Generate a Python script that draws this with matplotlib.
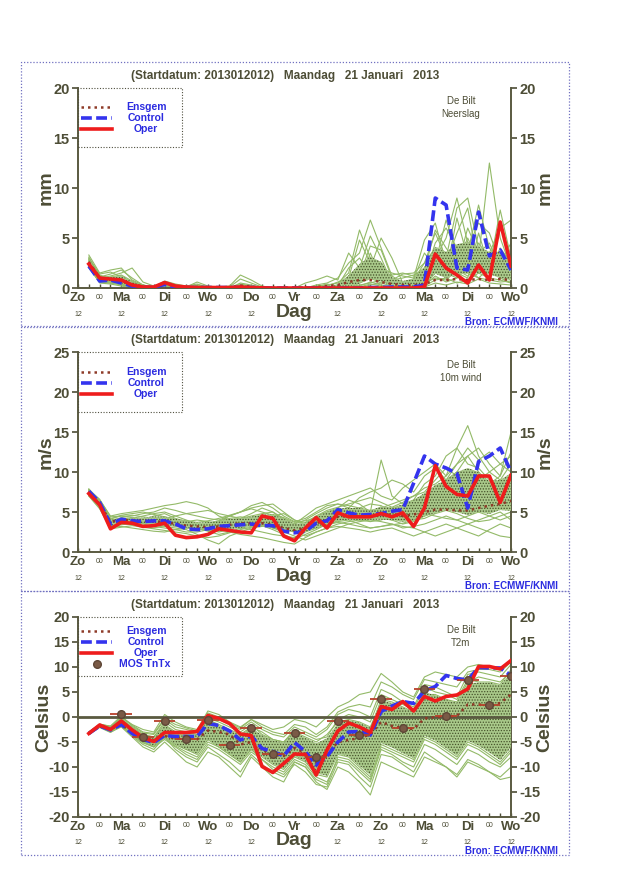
import numpy as np
import matplotlib
matplotlib.use('Agg')
import matplotlib.pyplot as plt
from matplotlib.patches import Rectangle

plt.rcParams['font.family'] = ['Liberation Sans', 'DejaVu Sans']
plt.rcParams['hatch.linewidth'] = 0.6

TXT = '#4d4d36'
GREEN = '#93ba68'
BLUE = '#3434ee'
RED = '#ee1c1c'
BROWN = '#8e3b28'

hours = list(range(6, 241, 6))
day_names = ['Zo', 'Ma', 'Di', 'Wo', 'Do', 'Vr', 'Za', 'Zo', 'Ma', 'Di', 'Wo']
title = '(Startdatum: 2013012012)   Maandag   21 Januari   2013'

# ---- neerslag (mm / 6h)
rain_oper = [2.4, 1.0, 0.9, 0.8, 0.3, 0.1, 0.1, 0.55, 0.2, 0.1,
             0.05, 0.05, 0.05, 0.05, 0.1, 0.05, 0.02, 0, 0, 0,
             0, 0, 0, 0, 0, 0, 0, 0, 0, 0,
             0, 0.1, 3.4, 2.0, 1.3, 0.5, 2.3, 0.8, 6.6, 2.2]
rain_ctrl = [2.2, 0.7, 0.8, 0.5, 0.2, 0.05, 0.1, 0.35, 0.1, 0.05,
             0.05, 0.05, 0.05, 0.05, 0.05, 0.05, 0.02, 0, 0, 0,
             0, 0, 0, 0, 0, 0, 0.05, 0.05, 0.1, 0.1,
             0.1, 0.3, 9.0, 8.3, 2.0, 1.8, 7.6, 3.2, 3.8, 1.8]
rain_mean = [2.6, 1.0, 0.9, 0.8, 0.4, 0.15, 0.05, 0.45, 0.15, 0.05,
             0.1, 0.05, 0.02, 0.05, 0.25, 0.15, 0.02, 0.02, 0.02, 0.02,
             0.05, 0.1, 0.2, 0.3, 0.6, 0.8, 0.8, 0.6, 0.4, 0.3,
             0.3, 0.4, 0.8, 0.8, 0.9, 0.8, 0.9, 0.8, 0.9, 0.8]
rain_members = [
    [3.3, 1.5, 1.8, 2.0, 0.8, 0.3, 0.1, 0.5, 0.3, 0.1, 0.6, 0.2, 0.1, 0.2, 1.3, 0.8, 0.2, 0, 0, 0,
     0, 0.3, 0.5, 1.0, 2.5, 3.5, 6.8, 4.0, 1.2, 0.5, 0.8, 2.5, 5.5, 3.0, 8.0, 9.0, 4.0, 2.5, 1.0, 3.0],
    [2.8, 1.0, 1.2, 1.5, 2.0, 0.6, 0.2, 0.6, 0.2, 0.1, 0.2, 0.1, 0, 0.1, 0.9, 0.5, 0.1, 0, 0, 0,
     0, 0.2, 0.3, 0.5, 1.5, 5.8, 3.0, 2.0, 1.5, 1.2, 1.0, 4.8, 6.5, 2.5, 2.0, 3.5, 8.3, 4.0, 2.5, 1.5],
    [2.5, 0.8, 0.6, 0.4, 0.2, 0.1, 0, 0.4, 0.1, 0, 0.1, 0, 0, 0, 0.4, 0.2, 0, 0, 0, 0,
     0.5, 0.8, 1.2, 0.8, 3.5, 2.0, 5.2, 3.0, 0.5, 0.2, 0.3, 1.0, 4.5, 6.0, 4.0, 2.0, 3.0, 12.5, 5.0, 2.0],
    [3.0, 1.3, 0.9, 1.0, 0.5, 0.2, 0.1, 0.7, 0.4, 0.2, 0.3, 0.1, 0, 0, 0.1, 0.1, 0, 0, 0, 0,
     0, 0, 0.2, 0.6, 1.0, 4.8, 2.5, 1.5, 1.3, 1.5, 1.2, 2.0, 3.0, 5.0, 9.0, 4.5, 2.0, 3.5, 6.0, 6.8],
    [2.2, 0.6, 0.5, 0.3, 0.1, 0, 0, 0.3, 0.1, 0, 0, 0, 0, 0, 0, 0, 0, 0, 0, 0,
     0, 0, 0, 0.3, 0.8, 1.5, 2.8, 1.5, 0.4, 0.2, 0.2, 0.5, 2.0, 1.5, 1.0, 2.5, 4.5, 3.0, 1.5, 0.8],
    [2.6, 1.1, 1.4, 1.8, 1.0, 0.3, 0.1, 0.5, 0.2, 0.1, 0.1, 0.1, 0, 0, 0.2, 0, 0, 0, 0, 0,
     0, 0, 0.1, 0.2, 0.5, 1.0, 2.0, 5.0, 3.0, 0.5, 0.3, 1.5, 3.5, 2.5, 5.5, 8.0, 2.0, 1.0, 3.0, 1.0],
    [2.9, 0.9, 0.7, 0.5, 0.2, 0.1, 0, 0.3, 0, 0, 0, 0, 0, 0, 0, 0, 0, 0, 0, 0,
     0, 0, 0, 0, 0.2, 0.5, 3.5, 1.0, 0.2, 0.1, 0.1, 0.3, 1.5, 2.5, 1.5, 1.0, 5.5, 2.0, 7.8, 3.0],
    [2.4, 0.7, 0.8, 0.6, 0.3, 0.1, 0, 0.4, 0.2, 0, 0, 0, 0, 0, 0.5, 0.3, 0, 0, 0, 0,
     0, 0, 0, 0, 0, 0.5, 1.0, 2.5, 0.8, 1.4, 1.5, 2.5, 4.0, 3.5, 2.0, 6.0, 3.5, 4.5, 2.0, 1.2],
    [2.1, 0.5, 0.4, 0.2, 0, 0, 0, 0.2, 0, 0, 0, 0, 0, 0, 0, 0, 0, 0, 0, 0,
     0, 0, 0, 0, 0, 0, 0.3, 0.5, 0.2, 0.1, 0, 0.2, 0.8, 1.0, 0.5, 0.8, 1.5, 1.0, 0.8, 0.5],
    [3.1, 1.2, 1.0, 1.2, 0.6, 0.2, 0.1, 0.6, 0.3, 0.2, 0.4, 0.1, 0, 0, 0, 0, 0, 0, 0, 0,
     0, 0.1, 0.4, 0.2, 2.0, 3.0, 1.5, 0.8, 0.3, 0.6, 0.9, 3.5, 2.0, 1.0, 3.0, 4.0, 6.5, 5.5, 2.5, 4.5],
    [2.7, 1.0, 0.9, 0.7, 0.3, 0.1, 0, 0.5, 0.1, 0, 0, 0, 0, 0, 0.3, 0.2, 0, 0, 0, 0,
     0, 0, 0, 0.1, 0.3, 0.8, 1.5, 0.7, 0.3, 0.2, 0.1, 0.5, 1.0, 0.8, 1.8, 1.2, 2.0, 1.5, 3.5, 1.8],
    [2.3, 0.8, 1.1, 1.3, 0.7, 0.2, 0, 0.4, 0.1, 0, 0, 0, 0, 0, 0, 0, 0, 0, 0, 0,
     0, 0, 0, 0, 0.4, 1.2, 4.2, 3.8, 1.0, 0.3, 0.5, 1.0, 2.5, 6.8, 3.5, 1.5, 1.0, 2.0, 1.0, 0.5],
    [2.0, 0.6, 0.5, 0.4, 0.1, 0, 0, 0.2, 0, 0, 0, 0, 0, 0, 0, 0, 0, 0, 0, 0,
     0, 0, 0, 0, 0, 0.2, 0.6, 0.3, 0.1, 0, 0, 0.1, 0.5, 0.3, 0.6, 0.4, 0.9, 0.5, 0.4, 0.3],
    [2.9, 1.4, 1.6, 1.1, 0.4, 0.2, 0, 0.5, 0.2, 0.1, 0.2, 0, 0, 0, 0, 0, 0, 0, 0, 0,
     0, 0, 0.1, 0.3, 1.2, 2.2, 1.0, 0.5, 0.8, 1.0, 1.3, 1.8, 5.8, 4.0, 2.5, 5.0, 2.5, 1.5, 4.0, 2.5],
    [2.5, 0.9, 0.7, 0.9, 0.4, 0.1, 0, 0.3, 0.1, 0, 0, 0, 0, 0, 0, 0, 0, 0, 0, 0,
     0, 0, 0, 0, 0.1, 0.3, 0.5, 0.8, 0.3, 0.2, 0.3, 0.8, 2.8, 1.5, 7.0, 3.0, 1.5, 2.5, 1.2, 1.0],
    [2.6, 1.0, 0.8, 0.6, 0.2, 0.1, 0, 0.4, 0.1, 0, 0, 0, 0, 0, 0, 0, 0, 0, 0, 0,
     0, 0, 0, 0, 0, 0.1, 0.4, 0.2, 0.1, 0, 0.1, 0.3, 1.2, 0.6, 1.0, 2.0, 1.0, 0.8, 0.6, 0.7],
]

# ---- 10m wind (m/s)
wind_oper = [7.3, 5.9, 2.9, 3.7, 3.6, 3.2, 3.3, 3.6, 2.1, 1.8,
             1.9, 2.2, 2.9, 2.7, 2.5, 2.4, 4.5, 4.2, 2.0, 1.4,
             3.0, 4.3, 3.0, 4.9, 4.4, 4.4, 4.4, 4.8, 4.4, 4.9,
             3.2, 5.5, 10.8, 8.2, 7.2, 7.0, 9.5, 9.5, 6.2, 9.6]
wind_ctrl = [7.6, 6.2, 3.5, 4.1, 3.9, 3.8, 3.9, 3.9, 3.5, 2.9,
             2.8, 2.9, 3.2, 3.3, 3.4, 3.5, 3.3, 3.3, 2.6, 2.4,
             2.6, 3.6, 3.9, 5.3, 4.9, 4.6, 4.7, 4.8, 5.1, 5.3,
             8.6, 12.0, 11.0, 10.5, 9.8, 5.5, 11.3, 12.0, 13.0, 10.0]
wind_mean = [7.5, 6.0, 3.8, 4.0, 4.0, 3.9, 3.8, 3.8, 3.5, 3.3,
             3.2, 3.1, 3.2, 3.4, 3.6, 3.6, 3.6, 3.4, 3.0, 2.7,
             3.0, 3.6, 4.0, 4.4, 4.5, 4.5, 4.5, 4.6, 4.7, 4.5,
             4.7, 5.0, 5.3, 5.3, 5.2, 5.2, 5.5, 5.8, 6.0, 6.4]
wind_members = [
    [7.8, 6.5, 4.5, 4.8, 5.0, 5.2, 5.5, 5.8, 6.0, 6.3, 6.0, 5.5, 4.5, 4.0, 4.2, 4.8, 5.5, 5.0, 4.0, 3.5,
     4.5, 5.5, 6.0, 6.5, 7.0, 7.5, 8.0, 7.0, 6.5, 8.0, 9.0, 10.0, 11.0, 9.5, 13.0, 15.8, 12.0, 10.0, 9.0, 11.0],
    [7.2, 5.8, 3.5, 3.8, 4.2, 4.5, 4.8, 5.0, 4.5, 4.0, 3.5, 3.2, 3.8, 4.5, 5.0, 5.5, 5.8, 6.0, 5.0, 4.0,
     3.5, 4.0, 5.0, 5.5, 6.5, 6.0, 5.0, 11.5, 7.0, 6.0, 6.5, 7.0, 8.0, 9.0, 10.0, 12.0, 13.0, 11.0, 9.5, 12.5],
    [7.5, 6.0, 3.2, 3.5, 3.8, 3.5, 3.2, 3.0, 2.8, 2.5, 2.5, 2.8, 3.0, 3.2, 3.0, 2.8, 2.5, 2.2, 2.0, 1.8,
     2.5, 3.0, 3.5, 4.0, 4.2, 4.0, 3.8, 4.0, 4.5, 4.2, 5.0, 6.0, 7.0, 8.0, 7.5, 9.0, 10.0, 8.5, 9.5, 15.0],
    [7.0, 5.5, 3.0, 3.5, 3.5, 3.8, 4.0, 4.0, 3.5, 3.2, 3.0, 2.8, 2.5, 2.8, 3.5, 4.0, 4.5, 4.0, 3.5, 3.0,
     3.5, 4.5, 5.0, 5.2, 4.8, 5.5, 6.0, 5.8, 5.0, 5.5, 6.5, 8.5, 9.5, 12.0, 13.0, 11.0, 10.5, 9.0, 8.0, 9.5],
    [7.6, 6.2, 4.0, 4.2, 4.0, 3.8, 3.5, 3.2, 3.0, 2.8, 2.2, 1.5, 1.0, 2.0, 2.5, 3.0, 3.2, 3.5, 3.0, 2.5,
     2.0, 2.5, 3.0, 3.5, 3.8, 4.0, 4.2, 4.5, 4.0, 3.5, 3.8, 4.5, 5.0, 6.0, 5.5, 5.0, 6.5, 7.0, 6.0, 7.5],
    [7.9, 6.4, 4.2, 4.5, 4.5, 4.8, 5.0, 5.5, 5.2, 4.8, 4.5, 4.2, 4.0, 4.5, 5.0, 5.8, 6.2, 5.5, 4.5, 3.8,
     4.2, 5.0, 5.8, 6.0, 5.5, 6.8, 7.5, 8.0, 9.0, 8.5, 7.5, 9.5, 10.5, 9.0, 11.0, 13.0, 11.5, 12.5, 11.0, 10.0],
    [7.3, 5.7, 3.4, 3.6, 3.4, 3.2, 3.0, 3.3, 3.6, 3.8, 4.0, 3.8, 3.5, 3.2, 3.0, 3.2, 3.5, 3.8, 3.2, 2.6,
     3.0, 3.5, 4.0, 4.5, 4.8, 5.0, 4.5, 4.2, 4.0, 4.5, 5.5, 6.0, 5.5, 7.0, 8.0, 6.5, 5.5, 6.0, 7.0, 6.5],
    [7.4, 6.0, 3.8, 4.0, 3.8, 3.6, 3.8, 4.0, 3.8, 3.5, 3.2, 3.0, 3.2, 3.5, 3.8, 4.0, 3.6, 3.0, 2.5, 2.0,
     1.5, 2.0, 2.5, 3.0, 3.5, 3.8, 4.0, 3.8, 3.5, 3.0, 3.2, 3.5, 4.0, 4.5, 4.0, 3.5, 4.0, 4.5, 5.0, 4.0],
    [7.7, 6.3, 3.6, 3.9, 4.2, 4.0, 4.5, 4.8, 4.2, 3.8, 3.5, 3.6, 3.8, 4.0, 4.2, 4.5, 4.8, 5.0, 4.2, 3.5,
     4.0, 4.8, 5.5, 6.0, 5.8, 5.5, 5.2, 5.5, 6.0, 6.5, 7.0, 7.5, 9.0, 10.5, 9.5, 8.5, 9.0, 10.0, 11.0, 12.0],
    [7.1, 5.6, 3.1, 3.2, 3.0, 2.8, 2.6, 2.5, 2.8, 3.0, 3.2, 3.0, 2.8, 2.5, 2.2, 2.0, 1.8, 1.5, 1.2, 1.0,
     1.8, 2.5, 3.0, 3.2, 3.0, 2.8, 2.5, 2.8, 3.0, 2.5, 2.0, 2.5, 3.0, 3.5, 3.0, 2.5, 2.0, 2.8, 3.5, 3.0],
    [7.5, 6.1, 3.9, 4.3, 4.6, 4.4, 4.2, 4.0, 3.6, 3.3, 3.0, 2.6, 2.2, 2.5, 3.0, 3.5, 4.0, 4.5, 4.8, 4.0,
     3.5, 4.0, 4.5, 5.0, 5.5, 5.2, 4.8, 5.0, 5.5, 5.8, 6.0, 7.0, 8.0, 7.0, 6.5, 7.5, 8.5, 7.5, 6.5, 8.0],
    [7.8, 6.6, 4.4, 4.5, 4.3, 4.1, 3.9, 4.2, 4.5, 4.8, 5.0, 5.2, 4.8, 4.5, 4.2, 3.8, 3.5, 3.0, 2.8, 2.5,
     2.8, 3.2, 3.8, 4.2, 4.5, 4.8, 5.0, 5.5, 5.2, 5.0, 5.5, 6.5, 7.5, 6.5, 5.5, 6.0, 7.0, 8.0, 9.0, 8.5],
    [7.2, 5.9, 3.3, 3.4, 3.6, 3.7, 3.5, 3.4, 3.2, 3.0, 2.9, 2.7, 2.6, 2.9, 3.3, 3.6, 3.3, 2.8, 2.2, 1.6,
     2.2, 2.8, 3.5, 3.8, 4.0, 3.5, 3.0, 3.2, 3.5, 3.2, 3.0, 2.5, 2.0, 2.5, 3.0, 3.5, 3.0, 2.5, 2.0, 1.8],
    [7.6, 6.2, 3.7, 4.0, 3.9, 3.8, 3.9, 3.6, 3.4, 3.2, 3.4, 3.6, 3.9, 4.2, 4.4, 4.2, 3.9, 3.6, 3.4, 3.1,
     3.4, 4.0, 4.6, 4.9, 5.2, 4.9, 4.6, 4.9, 5.3, 5.7, 6.2, 6.8, 7.8, 8.8, 10.0, 8.5, 7.5, 7.0, 8.5, 9.0],
    [7.4, 5.9, 3.5, 3.7, 3.9, 4.1, 4.3, 4.4, 4.0, 3.7, 3.5, 3.3, 3.1, 3.3, 3.6, 3.9, 4.3, 4.7, 4.3, 3.7,
     3.9, 4.3, 4.8, 5.3, 5.0, 4.6, 4.4, 4.6, 4.8, 5.2, 5.0, 4.8, 4.5, 4.2, 4.0, 4.5, 5.0, 5.5, 6.0, 5.5],
    [7.0, 5.4, 2.9, 3.1, 3.3, 3.1, 2.9, 2.7, 2.5, 2.3, 2.0, 1.8, 2.0, 2.4, 2.8, 3.1, 3.4, 3.7, 3.3, 2.9,
     2.6, 3.0, 3.4, 3.7, 3.5, 3.2, 3.0, 3.2, 3.4, 3.6, 4.0, 4.5, 5.0, 5.5, 6.0, 5.5, 5.0, 4.5, 4.0, 4.5],
    [7.7, 6.4, 4.1, 4.6, 4.8, 5.0, 4.7, 4.4, 4.1, 3.9, 3.7, 3.9, 4.2, 4.6, 5.0, 5.4, 5.0, 4.6, 3.9, 3.3,
     3.7, 4.5, 5.2, 5.6, 6.0, 6.4, 6.8, 6.2, 5.6, 6.2, 7.0, 8.0, 8.5, 9.5, 11.0, 12.0, 10.0, 8.5, 7.5, 9.0],
    [7.3, 5.8, 3.6, 3.8, 3.7, 3.6, 3.7, 3.9, 3.7, 3.5, 3.3, 3.4, 3.6, 3.8, 3.9, 3.7, 3.4, 3.2, 2.9, 2.6,
     2.9, 3.4, 3.9, 4.3, 4.5, 4.3, 4.1, 4.3, 4.5, 4.2, 4.0, 4.2, 4.8, 5.2, 4.8, 4.2, 3.8, 4.0, 4.5, 5.0],
]

# ---- T2m (Celsius)
temp_oper = [-3.3, -1.6, -2.5, -0.8, -2.6, -4.1, -4.9, -3.1, -3.1, -3.1,
             -2.9, 0.3, -0.3, -1.3, -3.4, -3.7, -9.9, -11.1, -9.3, -7.4,
             -7.5, -11.6, -6.6, -2.8, -1.2, -2.0, -3.1, 2.1, 1.5, 3.1,
             1.2, 4.1, 3.2, 4.1, 4.4, 5.6, 10.1, 10.1, 9.6, 11.3]
temp_ctrl = [-3.3, -1.8, -2.6, -1.5, -3.3, -4.5, -5.1, -3.7, -3.9, -3.9,
             -3.9, -1.3, -1.7, -2.8, -4.6, -3.8, -6.3, -6.9, -7.8, -5.1,
             -6.9, -9.6, -7.9, -5.0, -3.0, -2.9, -3.6, 1.1, 2.2, 3.1,
             2.7, 5.2, 6.1, 8.3, 7.7, 7.4, 9.9, 9.8, 9.8, 8.3]
temp_mean = [-3.3, -1.9, -2.4, -1.5, -3.2, -4.3, -4.7, -3.8, -4.3, -4.2,
             -4.5, -2.7, -3.0, -3.5, -5.5, -5.0, -6.5, -7.5, -7.8, -6.2,
             -7.2, -9.0, -7.5, -5.0, -4.6, -4.2, -3.5, -1.0, -1.8, -2.2,
             -2.4, -0.3, 0.0, 0.1, 0.2, 2.5, 2.5, 2.3, 2.8, 4.5]
temp_members = [
    [-3.2, -1.6, -2.2, 0.0, -1.5, -2.5, -3.0, 0.5, -1.0, -2.0, -2.5, 1.2, 0.5, -1.0, -2.0, -0.5, -1.5, -2.5, -2.0, -0.5,
     -1.0, -2.0, 0.0, 2.0, 3.0, 4.5, 5.0, 8.7, 7.0, 5.0, 4.0, 8.0, 9.0, 8.5, 8.0, 10.0, 10.5, 10.0, 9.5, 11.5],
    [-3.4, -1.8, -2.6, -1.0, -3.0, -4.5, -5.0, -3.0, -4.0, -4.5, -5.0, -2.5, -3.0, -4.0, -5.5, -4.0, -5.5, -6.5, -7.0, -5.0,
     -6.0, -7.0, -6.0, -3.0, -2.0, -2.5, -3.0, 2.0, 1.0, 0.0, -0.5, 3.5, 3.0, 2.5, 2.0, 5.5, 6.0, 5.5, 5.0, 8.0],
    [-3.5, -2.0, -3.0, -2.0, -4.0, -6.0, -7.0, -5.0, -7.0, -9.0, -10.0, -7.0, -8.0, -10.0, -12.0, -8.0, -10.0, -12.0, -13.0, -9.0,
     -10.0, -13.0, -14.5, -10.0, -11.0, -13.0, -15.6, -9.0, -10.0, -11.0, -12.0, -8.0, -9.0, -10.0, -12.0, -9.0, -10.0, -11.0, -12.5, -12.0],
    [-3.1, -1.5, -2.0, -0.5, -2.0, -3.5, -4.0, -1.5, -3.0, -3.5, -4.0, -0.5, -1.5, -2.5, -3.5, -2.0, -3.0, -4.5, -5.0, -3.0,
     -4.0, -5.0, -3.5, -1.0, -0.5, -1.0, -2.0, 3.0, 2.0, 1.5, 1.0, 5.0, 4.0, 3.5, 3.0, 7.0, 8.0, 7.5, 7.0, 9.0],
    [-3.3, -1.9, -2.7, -1.2, -3.2, -4.8, -5.5, -4.0, -5.5, -6.5, -7.0, -4.5, -5.5, -7.0, -8.5, -6.0, -7.5, -9.0, -10.0, -7.5,
     -8.5, -10.5, -11.0, -7.0, -7.5, -9.0, -10.5, -4.5, -5.0, -6.5, -7.5, -3.0, -4.0, -5.5, -7.0, -4.0, -5.0, -6.0, -7.5, -5.0],
    [-3.2, -1.7, -2.4, -0.8, -2.5, -4.0, -4.5, -2.5, -3.5, -4.0, -4.5, -1.8, -2.5, -3.5, -4.5, -3.0, -4.5, -6.0, -6.5, -4.5,
     -5.5, -7.0, -7.5, -4.0, -3.0, -3.5, -4.0, 1.0, 0.5, -0.5, -1.5, 2.5, 2.0, 1.0, 0.0, 4.0, 4.5, 4.0, 3.5, 6.5],
    [-3.4, -2.0, -2.8, -1.5, -3.5, -5.0, -6.0, -4.5, -6.0, -7.5, -8.5, -5.5, -6.5, -8.0, -9.5, -7.0, -8.5, -10.0, -11.0, -8.5,
     -9.5, -12.0, -13.0, -8.5, -9.0, -11.0, -13.0, -6.5, -7.5, -9.0, -10.0, -5.5, -6.5, -8.0, -9.5, -6.5, -7.5, -9.0, -10.0, -8.0],
    [-3.0, -1.5, -1.8, 0.2, -1.8, -3.2, -3.5, -0.5, -2.0, -2.5, -3.0, 0.5, -0.5, -1.5, -2.5, -1.0, -2.5, -3.5, -4.0, -2.0,
     -3.0, -4.0, -2.5, 0.5, 1.5, 1.0, 0.0, 5.5, 4.5, 3.0, 2.0, 6.5, 6.0, 5.0, 4.0, 8.5, 9.0, 8.5, 8.0, 10.5],
    [-3.3, -1.8, -2.5, -1.0, -3.0, -4.3, -4.8, -3.5, -4.5, -5.0, -5.5, -3.5, -4.0, -5.0, -6.0, -5.0, -6.5, -7.5, -8.0, -6.0,
     -7.0, -8.5, -9.0, -5.5, -5.5, -6.5, -7.5, -2.5, -3.0, -4.0, -5.0, -1.0, -1.5, -2.5, -4.0, -1.0, -1.5, -2.5, -3.5, -1.5],
    [-3.5, -2.1, -3.1, -1.8, -3.8, -5.5, -6.5, -4.0, -6.5, -8.0, -9.0, -6.0, -7.5, -9.0, -11.0, -7.5, -9.5, -11.0, -12.0, -9.5,
     -11.0, -13.5, -14.0, -9.0, -9.5, -12.0, -14.0, -7.5, -8.0, -9.5, -11.0, -7.0, -8.5, -10.0, -11.5, -8.5, -9.5, -11.0, -12.0, -10.0],
    [-3.2, -1.6, -2.3, -0.6, -2.3, -3.8, -4.2, -2.0, -3.0, -3.2, -3.5, -1.0, -2.0, -3.0, -4.0, -2.5, -4.0, -5.0, -5.5, -3.5,
     -4.5, -6.0, -5.0, -2.0, -1.0, -1.5, -2.5, 3.5, 3.0, 2.0, 1.0, 4.5, 4.5, 3.5, 2.5, 6.0, 6.5, 6.5, 6.0, 8.5],
    [-3.3, -1.9, -2.6, -1.4, -3.3, -4.6, -5.2, -3.8, -5.0, -6.0, -6.5, -4.0, -5.0, -6.0, -7.5, -5.5, -7.0, -8.0, -9.0, -6.5,
     -7.5, -9.5, -10.0, -6.0, -6.5, -8.0, -9.0, -3.5, -4.0, -5.5, -6.5, -2.0, -3.0, -4.5, -5.5, -2.5, -3.0, -4.0, -5.0, -3.0],
    [-3.1, -1.7, -2.1, -0.3, -2.2, -3.6, -4.0, -1.0, -2.5, -3.0, -3.5, -0.2, -1.0, -2.0, -3.0, -1.5, -3.5, -4.5, -5.0, -2.5,
     -3.5, -4.5, -4.0, -0.5, 0.5, 0.0, -1.0, 4.5, 3.5, 2.5, 1.5, 6.0, 5.0, 4.5, 3.5, 7.5, 7.0, 7.0, 6.5, 9.5],
    [-3.4, -2.0, -2.9, -1.6, -3.6, -5.2, -6.0, -3.5, -5.5, -6.5, -7.5, -4.5, -6.0, -7.5, -9.0, -6.5, -8.0, -9.5, -10.5, -8.0,
     -9.0, -11.5, -12.0, -7.5, -8.0, -10.0, -12.0, -5.5, -6.5, -7.5, -8.5, -4.0, -5.0, -6.5, -8.0, -5.0, -6.0, -7.5, -9.0, -6.5],
    [-3.2, -1.8, -2.4, -1.0, -2.8, -4.2, -4.6, -2.8, -4.0, -4.5, -5.0, -2.8, -3.5, -4.5, -5.5, -3.5, -5.0, -6.0, -7.0, -5.0,
     -6.0, -7.5, -7.0, -3.5, -2.5, -3.0, -3.5, 1.5, 1.0, 0.5, -0.5, 3.0, 2.5, 1.5, 0.5, 5.0, 5.5, 5.0, 4.5, 7.0],
    [-3.3, -1.7, -2.5, -0.9, -2.7, -4.4, -5.0, -3.2, -4.8, -5.5, -6.0, -3.0, -4.5, -5.5, -7.0, -4.5, -6.0, -7.0, -8.0, -5.5,
     -6.5, -8.0, -8.5, -4.5, -4.5, -5.5, -6.0, -1.0, -1.5, -2.5, -3.5, 0.5, 0.0, -1.0, -2.0, 1.0, 1.5, 0.5, -0.5, 2.0],
    [-3.0, -1.4, -1.9, -0.2, -1.6, -3.0, -3.3, -0.3, -1.5, -2.2, -2.8, 0.8, 0.0, -1.2, -2.2, -0.5, -2.0, -3.0, -3.5, -1.5,
     -2.0, -3.5, -2.0, 1.0, 2.0, 2.5, 2.0, 7.0, 6.0, 4.5, 3.5, 7.5, 7.0, 6.5, 6.0, 9.0, 9.5, 9.5, 9.0, 11.0],
    [-3.4, -1.9, -2.7, -1.3, -3.4, -5.0, -5.8, -4.2, -5.8, -7.0, -8.0, -5.0, -6.0, -7.5, -9.0, -6.5, -8.5, -10.5, -11.5, -9.0,
     -10.0, -12.5, -13.5, -8.0, -8.5, -10.5, -12.5, -6.0, -7.0, -8.0, -9.0, -4.5, -5.5, -7.0, -8.5, -5.5, -6.5, -8.0, -9.5, -7.0],
]

# MOS TnTx
tx_hours = [24, 48, 72, 96, 120, 144, 168, 192, 216, 240]
tx_vals = [0.5, -0.8, -0.6, -2.3, -3.2, -0.9, 3.6, 5.5, 7.4, 8.2]
tn_hours = [36, 60, 84, 108, 132, 156, 180, 204, 228]
tn_vals = [-4.1, -4.4, -5.6, -7.5, -8.1, -3.7, -2.3, 0.2, 2.4]


def draw_panel(ax, members, mean, ctrl, oper, ylim, yticks, unit, name, leg_bottom, leg_ys,
               mos=False, ylab_x=-0.074):
    for m in members:
        ax.plot(hours, m, color=GREEN, lw=0.8, zorder=2)
    arr = np.array(members)
    lo = np.percentile(arr, 25, axis=0)
    hi = np.percentile(arr, 75, axis=0)
    ax.fill_between(hours, lo, hi, facecolor='#a9c98a', edgecolor='#46522a',
                    hatch='......', linewidth=0, zorder=3)
    if mos:
        ax.axhline(0, color='#5a5a40', lw=2, zorder=3)
    ax.plot(hours, mean, color=BROWN, lw=1.8, ls=(0, (1, 1.6)), zorder=4)
    ax.plot(hours, ctrl, color=BLUE, lw=2.6, ls=(0, (3, 1.2)), zorder=5)
    ax.plot(hours, oper, color=RED, lw=2.6, zorder=6)
    if mos:
        ax.errorbar(tx_hours, tx_vals, xerr=6, fmt='o', ms=5.5, color='#7a5a46',
                    mec='#5e4636', ecolor='#b8402a', elinewidth=1.3, capsize=0, zorder=7)
        ax.errorbar(tn_hours, tn_vals, xerr=6, fmt='o', ms=5.5, color='#7a5a46',
                    mec='#5e4636', ecolor='#b8402a', elinewidth=1.3, capsize=0, zorder=7)

    ax.set_xlim(0, 240)
    ax.set_ylim(*ylim)
    ax.set_yticks(yticks)
    ax.set_yticklabels([str(v) for v in yticks])
    ax.set_xticks(range(0, 241, 6))
    ax.set_xticklabels([])
    ax.tick_params(axis='x', direction='in', length=3, color=TXT, width=1)
    ax.tick_params(axis='y', direction='out', length=4, width=1.2, color=TXT,
                   labelsize=10.5, labelcolor=TXT, right=True, labelright=True, pad=2)
    for lab in ax.get_yticklabels():
        lab.set_fontweight('bold')
    ax.spines['top'].set_visible(False)
    for s in ('left', 'right', 'bottom'):
        ax.spines[s].set_color('#5a5a40')
        ax.spines[s].set_linewidth(1.4)

    xt = ax.get_xaxis_transform()
    for k, d in enumerate(day_names):
        ax.text(24 * k, -0.05, d, transform=xt, ha='center', va='center',
                fontsize=9.5, fontweight='bold', color=TXT)
        if k != 5:
            ax.text(24 * k, -0.13, '12', transform=xt, ha='center', va='center',
                    fontsize=5, color=TXT)
    for k in range(10):
        ax.text(24 * k + 12, -0.045, '00', transform=xt, ha='center', va='center',
                fontsize=5, color=TXT)
    ax.text(120, -0.12, 'Dag', transform=xt, ha='center', va='center',
            fontsize=14, fontweight='bold', color=TXT)

    ax.text(ylab_x, 0.5, unit, transform=ax.transAxes, rotation=90, ha='center',
            va='center', fontsize=14, fontweight='bold', color=TXT)
    ax.text(1.078, 0.5, unit, transform=ax.transAxes, rotation=90, ha='center',
            va='center', fontsize=14, fontweight='bold', color=TXT)
    ax.text(0.478, 1.06, title, transform=ax.transAxes, ha='center', va='center',
            fontsize=8.5, fontweight='bold', color=TXT)
    ax.text(0.884, 0.935, 'De Bilt', transform=ax.transAxes, ha='center',
            va='center', fontsize=7, color=TXT)
    ax.text(0.884, 0.87, name, transform=ax.transAxes, ha='center',
            va='center', fontsize=7, color=TXT)
    ax.text(1.0, -0.172, 'Bron: ECMWF/KNMI', transform=ax.transAxes, ha='center',
            va='center', fontsize=7, fontweight='bold', color='#2b2be0')

    # legend box
    ax.add_patch(Rectangle((0, leg_bottom), 0.24, 1 - leg_bottom, transform=ax.transAxes,
                           fill=False, ls=(0, (1, 1.5)), lw=0.8, ec='#505040',
                           clip_on=False, zorder=8))
    labels = ['Ensgem', 'Control', 'Oper']
    styles = [dict(color=BROWN, lw=1.8, ls=(0, (1, 1.6))),
              dict(color=BLUE, lw=2.6, ls=(0, (3, 1.2))),
              dict(color=RED, lw=2.6)]
    for lab, st, yy in zip(labels, styles, leg_ys):
        ax.plot([0.008, 0.078], [yy, yy], transform=ax.transAxes, clip_on=False, zorder=8, **st)
        ax.text(0.157, yy, lab, transform=ax.transAxes, ha='center', va='center',
                fontsize=7.5, fontweight='bold', color='#2b2be0', zorder=8)
    if mos:
        yy = leg_ys[3]
        ax.plot([0.043], [yy], 'o', ms=5.5, color='#7a5a46', mec='#5e4636',
                transform=ax.transAxes, clip_on=False, zorder=8)
        ax.text(0.155, yy, 'MOS TnTx', transform=ax.transAxes, ha='center', va='center',
                fontsize=7.5, fontweight='bold', color='#2b2be0', zorder=8)


fig = plt.figure(figsize=(6.4, 8.8), dpi=100)
fig.patch.set_facecolor('white')

for y0 in (0.6295, 0.3284, 0.0284):
    fig.patches.append(Rectangle((0.0328, y0), 0.856, 0.3, transform=fig.transFigure,
                                 fill=False, ls=(0, (1, 1.5)), lw=0.9, ec='#7070c0'))

ax1 = fig.add_axes([0.1219, 0.6727, 0.6766, 0.2273])
draw_panel(ax1, rain_members, rain_mean, rain_ctrl, rain_oper, (0, 20), [0, 5, 10, 15, 20],
           'mm', 'Neerslag', 0.705, [0.9065, 0.8515, 0.7935])

ax2 = fig.add_axes([0.1219, 0.3727, 0.6766, 0.2273])
draw_panel(ax2, wind_members, wind_mean, wind_ctrl, wind_oper, (0, 25), [0, 5, 10, 15, 20, 25],
           'm/s', '10m wind', 0.70, [0.902, 0.847, 0.79])

ax3 = fig.add_axes([0.1219, 0.0716, 0.6766, 0.2273])
draw_panel(ax3, temp_members, temp_mean, temp_ctrl, temp_oper, (-20, 20),
           [-20, -15, -10, -5, 0, 5, 10, 15, 20], 'Celsius', 'T2m', 0.705,
           [0.93, 0.873, 0.82, 0.765], mos=True, ylab_x=-0.08)

fig.savefig('out.png', dpi=100, facecolor='white')
